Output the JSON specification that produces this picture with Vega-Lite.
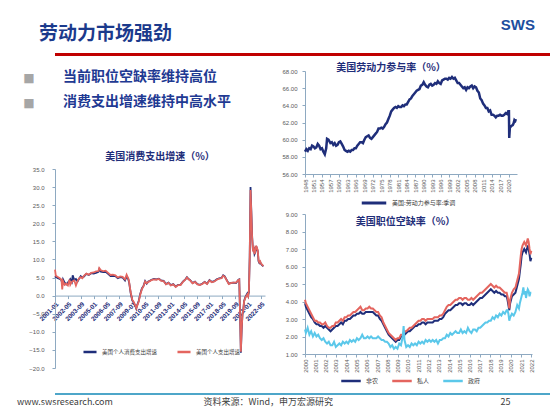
{
"$schema": "https://vega.github.io/schema/vega-lite/v6.json",
"background": "white",
"padding": {"top": 18, "left": 17, "right": 0, "bottom": 0},
"title": {"text": "SWS", "anchor": "end", "font": "Liberation Sans", "fontWeight": "bold", "fontSize": 15, "color": "#1D4E9E", "offset": -8, "dx": -20},
"datasets": {
"pce": [
{"t":2001.0,"a":5.0,"b":7.2},{"t":2001.083,"a":5.3,"b":5.5},{"t":2001.25,"a":4.9,"b":5.2},{"t":2001.5,"a":4.6,"b":4.8},{"t":2001.667,"a":4.3,"b":4.4},{"t":2001.75,"a":3.2,"b":1.7},{"t":2001.833,"a":4.5,"b":4.0},{"t":2002.0,"a":3.6,"b":3.0},{"t":2002.167,"a":3.1,"b":3.3},{"t":2002.333,"a":3.6,"b":2.8},{"t":2002.5,"a":4.2,"b":4.4},{"t":2002.583,"a":4.6,"b":3.0},{"t":2002.75,"a":3.8,"b":3.8},{"t":2002.833,"a":5.6,"b":4.0},{"t":2003.0,"a":4.3,"b":4.2},{"t":2003.167,"a":4.6,"b":2.8},{"t":2003.333,"a":3.9,"b":4.0},{"t":2003.5,"a":4.7,"b":4.8},{"t":2003.667,"a":5.4,"b":5.1},{"t":2003.833,"a":5.0,"b":4.8},{"t":2004.0,"a":5.3,"b":5.5},{"t":2004.25,"a":6.0,"b":6.1},{"t":2004.5,"a":5.7,"b":5.8},{"t":2004.75,"a":6.2,"b":6.3},{"t":2005.0,"a":6.1,"b":6.4},{"t":2005.25,"a":6.3,"b":6.7},{"t":2005.5,"a":6.6,"b":6.8},{"t":2005.583,"a":7.3,"b":7.6},{"t":2005.75,"a":6.6,"b":7.0},{"t":2006.0,"a":6.5,"b":6.8},{"t":2006.25,"a":6.6,"b":6.9},{"t":2006.5,"a":6.0,"b":6.3},{"t":2006.75,"a":5.4,"b":5.7},{"t":2007.0,"a":5.5,"b":5.8},{"t":2007.25,"a":5.4,"b":5.6},{"t":2007.5,"a":4.8,"b":5.0},{"t":2007.75,"a":5.1,"b":5.3},{"t":2008.0,"a":5.0,"b":5.2},{"t":2008.25,"a":4.2,"b":4.5},{"t":2008.417,"a":5.3,"b":5.8},{"t":2008.583,"a":4.6,"b":4.8},{"t":2008.667,"a":3.8,"b":4.0},{"t":2008.833,"a":0.8,"b":1.0},{"t":2009.0,"a":-1.3,"b":-1.1},{"t":2009.167,"a":-2.0,"b":-1.8},{"t":2009.333,"a":-3.0,"b":-2.8},{"t":2009.417,"a":-3.6,"b":-3.5},{"t":2009.5,"a":-2.7,"b":-2.9},{"t":2009.667,"a":-1.5,"b":-1.7},{"t":2009.833,"a":0.5,"b":0.3},{"t":2010.0,"a":2.0,"b":1.8},{"t":2010.167,"a":2.7,"b":2.6},{"t":2010.333,"a":4.0,"b":3.9},{"t":2010.5,"a":3.3,"b":3.4},{"t":2010.667,"a":3.9,"b":3.8},{"t":2010.833,"a":4.1,"b":4.0},{"t":2011.0,"a":4.4,"b":4.3},{"t":2011.25,"a":4.6,"b":4.5},{"t":2011.5,"a":4.5,"b":4.4},{"t":2011.75,"a":4.7,"b":4.6},{"t":2012.0,"a":4.2,"b":4.1},{"t":2012.25,"a":4.1,"b":4.0},{"t":2012.5,"a":3.2,"b":3.1},{"t":2012.75,"a":3.6,"b":3.5},{"t":2013.0,"a":2.9,"b":2.8},{"t":2013.25,"a":3.2,"b":3.1},{"t":2013.5,"a":2.5,"b":2.4},{"t":2013.75,"a":3.0,"b":2.9},{"t":2014.0,"a":3.0,"b":2.9},{"t":2014.25,"a":3.9,"b":3.8},{"t":2014.5,"a":4.5,"b":4.4},{"t":2014.667,"a":5.1,"b":5.0},{"t":2014.833,"a":4.6,"b":4.5},{"t":2015.0,"a":4.3,"b":4.2},{"t":2015.25,"a":3.5,"b":3.4},{"t":2015.5,"a":3.9,"b":3.8},{"t":2015.75,"a":3.2,"b":3.1},{"t":2016.0,"a":3.0,"b":2.9},{"t":2016.25,"a":3.3,"b":3.2},{"t":2016.5,"a":3.8,"b":3.7},{"t":2016.75,"a":3.3,"b":3.2},{"t":2017.0,"a":4.3,"b":4.2},{"t":2017.25,"a":3.8,"b":3.7},{"t":2017.5,"a":4.0,"b":3.9},{"t":2017.75,"a":4.5,"b":4.4},{"t":2018.0,"a":4.8,"b":4.7},{"t":2018.25,"a":4.9,"b":4.8},{"t":2018.417,"a":5.6,"b":5.5},{"t":2018.583,"a":5.3,"b":5.2},{"t":2018.75,"a":4.5,"b":4.4},{"t":2019.0,"a":3.3,"b":3.2},{"t":2019.25,"a":3.5,"b":3.5},{"t":2019.5,"a":3.6,"b":3.6},{"t":2019.75,"a":3.5,"b":3.6},{"t":2020.0,"a":4.4,"b":4.3},{"t":2020.083,"a":4.5,"b":4.4},{"t":2020.167,"a":-5.5,"b":-5.3},{"t":2020.25,"a":-15.8,"b":-15.5},{"t":2020.333,"a":-9.5,"b":-9.3},{"t":2020.417,"a":-5.2,"b":-5.1},{"t":2020.5,"a":-4.0,"b":-4.0},{"t":2020.583,"a":-1.5,"b":-1.6},{"t":2020.667,"a":-0.8,"b":-1.0},{"t":2020.75,"a":-0.2,"b":-0.4},{"t":2020.833,"a":0.2,"b":0.0},{"t":2020.917,"a":0.6,"b":0.3},{"t":2021.0,"a":0.0,"b":-0.2},{"t":2021.083,"a":1.0,"b":1.3},{"t":2021.167,"a":11.0,"b":10.5},{"t":2021.25,"a":30.0,"b":29.2},{"t":2021.333,"a":23.5,"b":23.0},{"t":2021.417,"a":16.5,"b":16.0},{"t":2021.5,"a":12.5,"b":12.8},{"t":2021.583,"a":13.5,"b":13.2},{"t":2021.667,"a":11.5,"b":11.5},{"t":2021.75,"a":12.0,"b":12.3},{"t":2021.833,"a":13.7,"b":13.8},{"t":2021.917,"a":13.0,"b":13.2},{"t":2022.0,"a":12.3,"b":12.5},{"t":2022.083,"a":9.5,"b":9.8},{"t":2022.167,"a":9.0,"b":9.2},{"t":2022.25,"a":9.3,"b":9.5},{"t":2022.333,"a":8.8,"b":9.0},{"t":2022.417,"a":8.5,"b":8.6},{"t":2022.5,"a":8.3,"b":8.4},{"t":2022.583,"a":8.1,"b":8.2}
],
"lfpr": [
{"t":1948.0,"v":58.6},{"t":1948.5,"v":58.9},{"t":1949.0,"v":58.7},{"t":1949.5,"v":59.0},{"t":1950.0,"v":58.9},{"t":1950.5,"v":59.3},{"t":1951.0,"v":59.2},{"t":1951.5,"v":59.0},{"t":1952.0,"v":59.1},{"t":1952.5,"v":59.5},{"t":1953.0,"v":59.3},{"t":1953.5,"v":58.9},{"t":1954.0,"v":59.0},{"t":1954.5,"v":58.6},{"t":1955.0,"v":58.3},{"t":1955.5,"v":59.0},{"t":1955.8,"v":60.1},{"t":1956.3,"v":60.0},{"t":1957.0,"v":59.6},{"t":1957.5,"v":59.7},{"t":1958.0,"v":59.4},{"t":1958.5,"v":59.6},{"t":1959.0,"v":59.3},{"t":1959.5,"v":59.4},{"t":1960.0,"v":59.7},{"t":1960.5,"v":59.8},{"t":1961.0,"v":59.5},{"t":1961.5,"v":59.2},{"t":1962.0,"v":58.8},{"t":1962.5,"v":58.7},{"t":1963.0,"v":58.6},{"t":1963.5,"v":58.7},{"t":1964.0,"v":58.6},{"t":1964.5,"v":58.8},{"t":1965.0,"v":58.8},{"t":1965.5,"v":59.0},{"t":1966.0,"v":59.0},{"t":1966.5,"v":59.3},{"t":1967.0,"v":59.5},{"t":1967.5,"v":59.7},{"t":1968.0,"v":59.7},{"t":1968.5,"v":59.6},{"t":1969.0,"v":60.0},{"t":1969.5,"v":60.3},{"t":1970.0,"v":60.4},{"t":1970.5,"v":60.5},{"t":1971.0,"v":60.2},{"t":1971.5,"v":60.1},{"t":1972.0,"v":60.3},{"t":1972.5,"v":60.5},{"t":1973.0,"v":60.7},{"t":1973.5,"v":60.9},{"t":1974.0,"v":61.3},{"t":1974.5,"v":61.3},{"t":1975.0,"v":61.4},{"t":1975.5,"v":61.3},{"t":1976.0,"v":61.5},{"t":1976.5,"v":61.8},{"t":1977.0,"v":62.0},{"t":1977.5,"v":62.4},{"t":1978.0,"v":62.8},{"t":1978.5,"v":63.3},{"t":1979.0,"v":63.5},{"t":1979.5,"v":63.7},{"t":1980.0,"v":63.8},{"t":1980.5,"v":63.7},{"t":1981.0,"v":63.9},{"t":1981.5,"v":63.8},{"t":1982.0,"v":63.8},{"t":1982.5,"v":64.0},{"t":1983.0,"v":63.9},{"t":1983.5,"v":64.1},{"t":1984.0,"v":64.1},{"t":1984.5,"v":64.4},{"t":1985.0,"v":64.7},{"t":1985.5,"v":64.8},{"t":1986.0,"v":65.1},{"t":1986.5,"v":65.3},{"t":1987.0,"v":65.5},{"t":1987.5,"v":65.7},{"t":1988.0,"v":65.8},{"t":1988.5,"v":65.9},{"t":1989.0,"v":66.3},{"t":1989.5,"v":66.4},{"t":1990.0,"v":66.7},{"t":1990.5,"v":66.4},{"t":1991.0,"v":66.2},{"t":1991.5,"v":66.1},{"t":1992.0,"v":66.4},{"t":1992.5,"v":66.5},{"t":1993.0,"v":66.3},{"t":1993.5,"v":66.4},{"t":1994.0,"v":66.6},{"t":1994.5,"v":66.5},{"t":1995.0,"v":66.8},{"t":1995.5,"v":66.6},{"t":1996.0,"v":66.5},{"t":1996.5,"v":66.9},{"t":1997.0,"v":67.0},{"t":1997.5,"v":67.1},{"t":1998.0,"v":67.1},{"t":1998.5,"v":67.0},{"t":1999.0,"v":67.2},{"t":1999.5,"v":67.1},{"t":2000.0,"v":67.3},{"t":2000.5,"v":67.1},{"t":2001.0,"v":67.2},{"t":2001.5,"v":66.9},{"t":2002.0,"v":66.6},{"t":2002.5,"v":66.6},{"t":2003.0,"v":66.4},{"t":2003.5,"v":66.2},{"t":2004.0,"v":66.0},{"t":2004.5,"v":66.1},{"t":2005.0,"v":65.8},{"t":2005.5,"v":66.1},{"t":2006.0,"v":66.0},{"t":2006.5,"v":66.2},{"t":2007.0,"v":66.3},{"t":2007.5,"v":66.0},{"t":2008.0,"v":66.2},{"t":2008.5,"v":66.1},{"t":2009.0,"v":65.7},{"t":2009.5,"v":65.5},{"t":2010.0,"v":64.8},{"t":2010.5,"v":64.6},{"t":2011.0,"v":64.2},{"t":2011.5,"v":64.0},{"t":2012.0,"v":63.7},{"t":2012.5,"v":63.7},{"t":2013.0,"v":63.3},{"t":2013.5,"v":63.4},{"t":2014.0,"v":62.9},{"t":2014.5,"v":62.9},{"t":2015.0,"v":62.8},{"t":2015.5,"v":62.6},{"t":2016.0,"v":62.8},{"t":2016.5,"v":62.8},{"t":2017.0,"v":62.9},{"t":2017.5,"v":62.8},{"t":2018.0,"v":62.8},{"t":2018.5,"v":62.9},{"t":2019.0,"v":63.1},{"t":2019.5,"v":63.0},{"t":2019.9,"v":63.3},{"t":2020.15,"v":63.3},{"t":2020.25,"v":60.2},{"t":2020.5,"v":61.5},{"t":2020.75,"v":61.5},{"t":2021.0,"v":61.6},{"t":2021.5,"v":61.7},{"t":2021.8,"v":61.9},{"t":2022.1,"v":62.3},{"t":2022.4,"v":62.2},{"t":2022.6,"v":62.4}
],
"vac": [
{"t":2000.917,"a":3.9,"b":4.1,"c":2.4},{"t":2001.0,"a":3.7,"b":3.9,"c":2.2},{"t":2001.167,"a":3.5,"b":3.7,"c":2.5},{"t":2001.333,"a":3.3,"b":3.5,"c":2.1},{"t":2001.5,"a":3.1,"b":3.3,"c":2.3},{"t":2001.667,"a":3.0,"b":3.1,"c":2.0},{"t":2001.833,"a":2.8,"b":2.9,"c":2.2},{"t":2002.0,"a":2.7,"b":2.9,"c":2.0},{"t":2002.167,"a":2.7,"b":2.8,"c":2.1},{"t":2002.333,"a":2.6,"b":2.8,"c":1.9},{"t":2002.5,"a":2.6,"b":2.7,"c":1.8},{"t":2002.667,"a":2.5,"b":2.7,"c":1.9},{"t":2002.833,"a":2.6,"b":2.8,"c":1.7},{"t":2003.0,"a":2.5,"b":2.6,"c":1.6},{"t":2003.167,"a":2.4,"b":2.5,"c":1.7},{"t":2003.333,"a":2.3,"b":2.5,"c":1.5},{"t":2003.5,"a":2.4,"b":2.6,"c":1.5},{"t":2003.667,"a":2.5,"b":2.6,"c":1.7},{"t":2003.833,"a":2.6,"b":2.8,"c":1.4},{"t":2004.0,"a":2.6,"b":2.8,"c":1.5},{"t":2004.167,"a":2.7,"b":2.9,"c":1.6},{"t":2004.333,"a":2.8,"b":3.0,"c":1.5},{"t":2004.5,"a":2.7,"b":2.9,"c":1.7},{"t":2004.667,"a":2.9,"b":3.1,"c":1.6},{"t":2004.833,"a":2.9,"b":3.1,"c":1.7},{"t":2005.0,"a":3.0,"b":3.2,"c":1.6},{"t":2005.167,"a":3.0,"b":3.2,"c":1.8},{"t":2005.333,"a":3.1,"b":3.3,"c":1.7},{"t":2005.5,"a":3.2,"b":3.4,"c":1.8},{"t":2005.667,"a":3.2,"b":3.4,"c":1.7},{"t":2005.833,"a":3.3,"b":3.5,"c":1.9},{"t":2006.0,"a":3.3,"b":3.6,"c":1.8},{"t":2006.167,"a":3.4,"b":3.7,"c":1.9},{"t":2006.333,"a":3.3,"b":3.5,"c":2.1},{"t":2006.5,"a":3.3,"b":3.5,"c":1.9},{"t":2006.667,"a":3.4,"b":3.6,"c":1.9},{"t":2006.833,"a":3.4,"b":3.6,"c":2.0},{"t":2007.0,"a":3.4,"b":3.7,"c":1.9},{"t":2007.167,"a":3.4,"b":3.6,"c":2.0},{"t":2007.333,"a":3.4,"b":3.6,"c":1.9},{"t":2007.5,"a":3.3,"b":3.5,"c":1.9},{"t":2007.667,"a":3.2,"b":3.4,"c":1.9},{"t":2007.833,"a":3.2,"b":3.4,"c":2.0},{"t":2008.0,"a":3.0,"b":3.2,"c":1.9},{"t":2008.167,"a":2.9,"b":3.1,"c":1.8},{"t":2008.333,"a":2.7,"b":2.8,"c":1.8},{"t":2008.5,"a":2.5,"b":2.6,"c":1.7},{"t":2008.667,"a":2.3,"b":2.4,"c":1.7},{"t":2008.833,"a":2.1,"b":2.2,"c":1.6},{"t":2009.0,"a":2.0,"b":2.1,"c":1.4},{"t":2009.167,"a":1.9,"b":2.0,"c":1.5},{"t":2009.333,"a":1.8,"b":1.9,"c":1.3},{"t":2009.5,"a":1.7,"b":1.8,"c":1.4},{"t":2009.667,"a":1.8,"b":1.9,"c":1.3},{"t":2009.833,"a":1.8,"b":1.9,"c":1.6},{"t":2010.0,"a":2.0,"b":2.1,"c":1.5},{"t":2010.167,"a":2.0,"b":2.1,"c":2.0},{"t":2010.25,"a":2.1,"b":2.2,"c":2.6},{"t":2010.333,"a":2.1,"b":2.3,"c":1.8},{"t":2010.5,"a":2.2,"b":2.3,"c":1.4},{"t":2010.667,"a":2.3,"b":2.4,"c":1.5},{"t":2010.833,"a":2.3,"b":2.5,"c":1.4},{"t":2011.0,"a":2.4,"b":2.5,"c":1.6},{"t":2011.167,"a":2.5,"b":2.6,"c":1.5},{"t":2011.333,"a":2.6,"b":2.7,"c":1.6},{"t":2011.5,"a":2.6,"b":2.8,"c":1.5},{"t":2011.667,"a":2.7,"b":2.9,"c":1.7},{"t":2011.833,"a":2.7,"b":2.9,"c":1.6},{"t":2012.0,"a":2.8,"b":3.0,"c":1.7},{"t":2012.167,"a":2.8,"b":3.0,"c":1.6},{"t":2012.333,"a":2.7,"b":2.9,"c":1.8},{"t":2012.5,"a":2.8,"b":3.0,"c":1.7},{"t":2012.667,"a":2.8,"b":3.0,"c":1.8},{"t":2012.833,"a":2.8,"b":3.0,"c":1.7},{"t":2013.0,"a":2.8,"b":3.0,"c":1.8},{"t":2013.167,"a":2.9,"b":3.1,"c":1.7},{"t":2013.333,"a":2.9,"b":3.1,"c":1.8},{"t":2013.5,"a":2.9,"b":3.1,"c":1.6},{"t":2013.667,"a":3.0,"b":3.2,"c":1.8},{"t":2013.833,"a":3.0,"b":3.2,"c":1.8},{"t":2014.0,"a":3.1,"b":3.3,"c":1.9},{"t":2014.167,"a":3.3,"b":3.5,"c":1.9},{"t":2014.333,"a":3.4,"b":3.7,"c":2.1},{"t":2014.5,"a":3.5,"b":3.8,"c":2.0},{"t":2014.667,"a":3.5,"b":3.8,"c":2.2},{"t":2014.833,"a":3.6,"b":3.9,"c":2.1},{"t":2015.0,"a":3.7,"b":4.0,"c":2.2},{"t":2015.167,"a":3.8,"b":4.1,"c":2.3},{"t":2015.333,"a":3.8,"b":4.1,"c":2.2},{"t":2015.5,"a":3.9,"b":4.2,"c":2.2},{"t":2015.667,"a":3.9,"b":4.2,"c":2.4},{"t":2015.833,"a":3.8,"b":4.1,"c":2.2},{"t":2016.0,"a":3.9,"b":4.2,"c":2.3},{"t":2016.167,"a":3.9,"b":4.2,"c":2.2},{"t":2016.333,"a":3.8,"b":4.1,"c":2.5},{"t":2016.5,"a":3.8,"b":4.1,"c":2.3},{"t":2016.667,"a":3.9,"b":4.2,"c":2.2},{"t":2016.833,"a":3.8,"b":4.1,"c":2.4},{"t":2017.0,"a":3.9,"b":4.2,"c":2.4},{"t":2017.167,"a":4.0,"b":4.3,"c":2.3},{"t":2017.333,"a":4.1,"b":4.4,"c":2.5},{"t":2017.5,"a":4.2,"b":4.5,"c":2.5},{"t":2017.667,"a":4.2,"b":4.5,"c":2.6},{"t":2017.833,"a":4.3,"b":4.6,"c":2.7},{"t":2018.0,"a":4.4,"b":4.7,"c":2.8},{"t":2018.167,"a":4.5,"b":4.8,"c":2.8},{"t":2018.333,"a":4.6,"b":4.9,"c":2.9},{"t":2018.5,"a":4.7,"b":5.0,"c":2.9},{"t":2018.667,"a":4.6,"b":4.9,"c":3.1},{"t":2018.833,"a":4.5,"b":4.8,"c":3.0},{"t":2019.0,"a":4.6,"b":4.9,"c":3.2},{"t":2019.167,"a":4.5,"b":4.8,"c":3.1},{"t":2019.333,"a":4.5,"b":4.8,"c":3.3},{"t":2019.5,"a":4.4,"b":4.7,"c":3.2},{"t":2019.667,"a":4.4,"b":4.6,"c":3.4},{"t":2019.833,"a":4.3,"b":4.5,"c":3.3},{"t":2020.0,"a":4.3,"b":4.5,"c":3.5},{"t":2020.083,"a":4.1,"b":4.3,"c":3.5},{"t":2020.167,"a":3.8,"b":4.0,"c":3.3},{"t":2020.25,"a":3.5,"b":3.6,"c":2.9},{"t":2020.333,"a":3.9,"b":4.1,"c":3.1},{"t":2020.5,"a":4.3,"b":4.5,"c":3.3},{"t":2020.667,"a":4.4,"b":4.7,"c":3.2},{"t":2020.833,"a":4.5,"b":4.8,"c":3.4},{"t":2021.0,"a":4.9,"b":5.2,"c":3.8},{"t":2021.167,"a":5.3,"b":5.6,"c":3.6},{"t":2021.25,"a":5.7,"b":6.1,"c":3.9},{"t":2021.333,"a":6.1,"b":6.6,"c":4.1},{"t":2021.417,"a":6.6,"b":7.0,"c":4.3},{"t":2021.5,"a":6.8,"b":7.2,"c":4.5},{"t":2021.583,"a":6.9,"b":7.3,"c":4.8},{"t":2021.667,"a":7.0,"b":7.4,"c":4.4},{"t":2021.75,"a":6.9,"b":7.3,"c":4.6},{"t":2021.833,"a":6.8,"b":7.2,"c":4.2},{"t":2021.917,"a":7.0,"b":7.4,"c":4.5},{"t":2022.0,"a":7.2,"b":7.6,"c":4.7},{"t":2022.083,"a":7.0,"b":7.4,"c":4.6},{"t":2022.167,"a":6.7,"b":7.0,"c":4.3},{"t":2022.25,"a":6.3,"b":6.7,"c":4.5},{"t":2022.333,"a":6.5,"b":6.9,"c":4.5}
]
},
"spacing": 7,
"resolve": {"scale": {"color": "independent"}, "legend": {"color": "independent"}},
"vconcat": [
{
"width": 500, "height": 3,
"title": {"text": "劳动力市场强劲", "anchor": "start", "fontSize": 19, "fontWeight": "bold", "color": "#1B3A8C", "offset": 9, "dx": -16},
"data": {"values": [{"band": "header"}]},
"mark": {"type": "rect", "color": "#C00000"},
"encoding": {
"x": {"datum": 0, "type": "quantitative", "scale": {"domain": [0, 1]}, "axis": null},
"x2": {"datum": 1},
"y": {"datum": 0, "type": "quantitative", "scale": {"domain": [0, 1]}, "axis": null},
"y2": {"datum": 1}
}
},
{
"spacing": 14,
"resolve": {"scale": {"color": "independent"}, "legend": {"color": "independent"}},
"hconcat": [
{
"spacing": 43,
"resolve": {"scale": {"color": "independent"}, "legend": {"color": "independent"}},
"vconcat": [
{
"width": 8, "height": 37,
"data": {"values": [{"item": "当前职位空缺率维持高位"}, {"item": "消费支出增速维持中高水平"}]},
"mark": {"type": "text", "align": "left", "dx": 4, "fontSize": 14, "font": "Noto Sans CJK SC", "fontWeight": "bold", "color": "#1F3A93"},
"encoding": {
"y": {"field": "item", "type": "nominal", "sort": null, "scale": {"padding": 0.24}, "axis": {"orient": "left", "domain": false, "ticks": false, "labelExpr": "'■'", "labelFont": "DejaVu Sans", "labelFontSize": 12, "labelColor": "#A6A6A6", "labelPadding": 21}},
"text": {"field": "item"}
}
},
{
"width": 210, "height": 199,
"title": {"text": "美国消费支出增速（%）", "offset": 4},
"data": {"name": "pce"},
"transform": [{"fold": ["a", "b"], "as": ["s", "v"]}],
"mark": {"type": "line", "strokeWidth": 1.8},
"encoding": {
"x": {"field": "t", "type": "quantitative", "scale": {"domain": [2001, 2022.75], "nice": false, "zero": false},
 "axis": {"values": [2001, 2002.3333, 2003.6667, 2005, 2006.3333, 2007.6667, 2009, 2010.3333, 2011.6667, 2013, 2014.3333, 2015.6667, 2017, 2018.3333, 2019.6667, 2021, 2022.3333],
 "labelExpr": "floor(datum.value+0.01) + '-' + ((round((datum.value-floor(datum.value+0.01))*12)+1) < 10 ? '0' : '') + (round((datum.value-floor(datum.value+0.01))*12)+1)",
 "labelAngle": -45, "offset": -72.4, "labelColor": "#1F2E7A", "labelFontWeight": "bold", "labelFontSize": 6.5, "labelOverlap": false}},
"y": {"field": "v", "type": "quantitative", "scale": {"domain": [-20, 35], "nice": false}, "axis": {"values": [-20, -15, -10, -5, 0, 5, 10, 15, 20, 25, 30, 35], "format": ".1f", "labelPadding": 8}},
"color": {"field": "s", "type": "nominal", "scale": {"domain": ["a", "b"], "range": ["#1F2E7A", "#E4655F"]},
 "legend": {"orient": "none", "legendX": 27, "legendY": 175, "direction": "horizontal", "columnPadding": 14, "symbolSize": 170, "labelFontSize": 5.5, "labelExpr": "datum.label == 'a' ? '美国个人消费支出增速' : '美国个人支出增速'"}}
}
}
]
},
{
"spacing": 2,
"resolve": {"scale": {"color": "independent"}, "legend": {"color": "independent"}},
"vconcat": [
{
"width": 212, "height": 103,
"title": {"text": "美国劳动力参与率（%）", "offset": -5, "dx": -20},
"data": {"name": "lfpr"},
"mark": {"type": "line", "strokeWidth": 2.5},
"encoding": {
"x": {"field": "t", "type": "quantitative", "scale": {"domain": [1948, 2023], "nice": false, "zero": false},
 "axis": {"values": [1948, 1951, 1954, 1957, 1960, 1963, 1966, 1969, 1972, 1975, 1978, 1981, 1984, 1987, 1990, 1993, 1996, 1999, 2002, 2005, 2008, 2011, 2014, 2017, 2020], "format": "d", "labelAngle": 270, "labelFontSize": 6, "labelOverlap": false}},
"y": {"field": "v", "type": "quantitative", "scale": {"domain": [56, 68], "nice": false, "zero": false}, "axis": {"values": [56, 58, 60, 62, 64, 66, 68], "format": ".2f", "labelPadding": 5}},
"color": {"datum": "美国:劳动力参与率:季调", "scale": {"range": ["#1F2E7A"]}, "legend": {"orient": "none", "legendX": 55, "legendY": 118, "symbolSize": 600, "symbolStrokeWidth": 3}}
}
},
{
"width": 227, "height": 140,
"title": {"text": "美国职位空缺率（%）", "offset": -16, "dx": -13},
"data": {"name": "vac"},
"transform": [{"fold": ["a", "b", "c"], "as": ["s", "v"]}],
"mark": {"type": "line", "strokeWidth": 2},
"encoding": {
"x": {"field": "t", "type": "quantitative", "scale": {"domain": [2000.917, 2022.4], "nice": false, "zero": false},
 "axis": {"values": [2000.917, 2001.8905, 2002.864, 2003.8375, 2004.811, 2005.7845, 2006.758, 2007.7315, 2008.705, 2009.6785, 2010.652, 2011.6255, 2012.599, 2013.5725, 2014.546, 2015.5195, 2016.493, 2017.4665, 2018.44, 2019.4135, 2020.387, 2021.3605, 2022.334],
 "labelExpr": "'' + (2000 + round((datum.value - 2000.917) / 0.9735))", "labelAngle": 270, "labelFontSize": 6, "labelOverlap": false}},
"y": {"field": "v", "type": "quantitative", "scale": {"domain": [1, 9], "nice": false, "zero": false}, "axis": {"values": [1, 2, 3, 4, 5, 6, 7, 8, 9], "format": ".2f", "labelPadding": 5}},
"color": {"field": "s", "type": "nominal", "scale": {"domain": ["a", "b", "c"], "range": ["#1F2E7A", "#E4655F", "#5BC8EA"]},
 "legend": {"orient": "none", "legendX": 35, "legendY": 156, "direction": "horizontal", "columnPadding": 8, "symbolSize": 380, "labelExpr": "datum.label == 'a' ? '非农' : (datum.label == 'b' ? '私人' : '政府')"}}
}
}
]
}
]
},
{
"width": 500, "height": 2,
"title": {"text": "www.swsresearch.com\u00a0\u00a0\u00a0\u00a0\u00a0\u00a0\u00a0\u00a0\u00a0\u00a0\u00a0\u00a0\u00a0\u00a0\u00a0\u00a0\u00a0\u00a0\u00a0\u00a0\u00a0\u00a0\u00a0\u00a0\u00a0\u00a0\u00a0\u00a0\u00a0\u00a0\u00a0\u00a0\u00a0\u00a0\u00a0\u00a0\u00a0\u00a0\u00a0\u00a0\u00a0\u00a0\u00a0\u00a0\u00a0资料来源：Wind，申万宏源研究\u00a0\u00a0\u00a0\u00a0\u00a0\u00a0\u00a0\u00a0\u00a0\u00a0\u00a0\u00a0\u00a0\u00a0\u00a0\u00a0\u00a0\u00a0\u00a0\u00a0\u00a0\u00a0\u00a0\u00a0\u00a0\u00a0\u00a0\u00a0\u00a0\u00a0\u00a0\u00a0\u00a0\u00a0\u00a0\u00a0\u00a0\u00a0\u00a0\u00a0\u00a0\u00a0\u00a0\u00a0\u00a0\u00a0\u00a0\u00a0\u00a0\u00a0\u00a0\u00a0\u00a0\u00a0\u00a0\u00a0\u00a0\u00a0\u00a0\u00a0\u00a0\u00a0\u00a0\u00a0\u00a0\u00a0\u00a0\u00a0\u00a0\u00a0\u00a0\u00a0\u00a0\u00a0\u00a0\u00a0\u00a0\u00a0\u00a0\u00a0\u00a0\u00a0\u00a025", "orient": "bottom", "anchor": "start", "fontSize": 9, "fontWeight": "normal", "color": "#404040", "font": "Noto Sans CJK SC", "offset": 3, "dx": -38},
"data": {"values": [{"band": "footer"}]},
"mark": {"type": "rect", "color": "#4EA6C9"},
"encoding": {
"x": {"datum": 0, "type": "quantitative", "scale": {"domain": [0, 1]}, "axis": null},
"x2": {"datum": 1},
"y": {"datum": 0, "type": "quantitative", "scale": {"domain": [0, 1]}, "axis": null},
"y2": {"datum": 1}
}
}
],
"config": {
"font": "Noto Sans CJK SC",
"view": {"stroke": null},
"axis": {"grid": false, "title": null, "labelFont": "Liberation Sans", "labelFontSize": 6, "labelColor": "#595959", "domainColor": "#8EA9C1", "tickColor": "#8EA9C1", "tickSize": 3},
"legend": {"title": null, "labelFont": "Noto Sans CJK SC", "labelFontSize": 6, "labelColor": "#404040", "symbolType": "stroke", "symbolStrokeWidth": 2.5, "symbolSize": 150},
"title": {"font": "Noto Sans CJK SC", "color": "#1F2E7A", "fontWeight": "bold", "fontSize": 10}
}
}
